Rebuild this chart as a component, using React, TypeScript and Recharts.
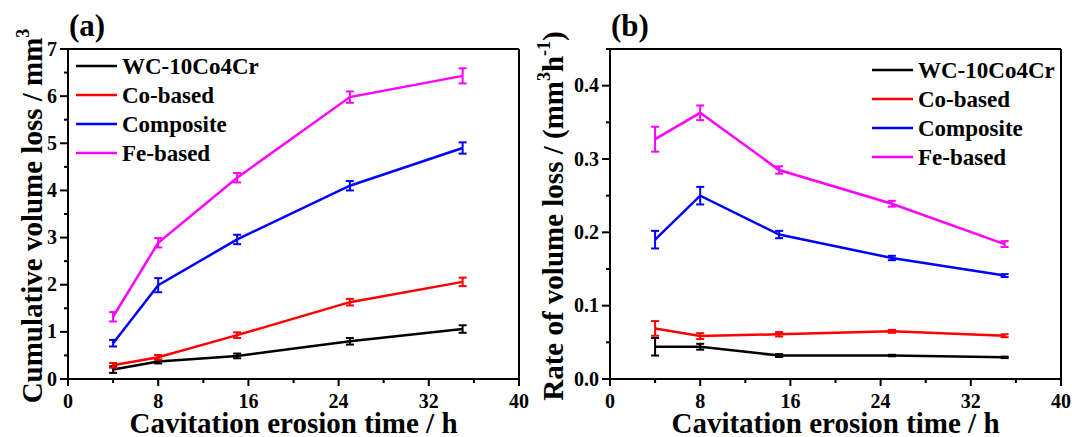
import React from 'react';
import { LineChart, Line, XAxis, YAxis, ErrorBar, ReferenceLine, Legend } from 'recharts';

const FONT = "'Liberation Serif', 'Times New Roman', Times, serif";

// ---------- data ----------
const times = [4, 8, 15, 25, 35];
const seriesNames = ['WC-10Co4Cr', 'Co-based', 'Composite', 'Fe-based'];
const seriesColors = ['#000000', '#ff0000', '#0000ff', '#ff00ff'];

// (a) cumulative volume loss, mm^3
const cumWC = [0.2, 0.37, 0.49, 0.8, 1.06];
const cumWCErr = [0.07, 0.04, 0.05, 0.07, 0.08];
const cumCo = [0.29, 0.46, 0.93, 1.63, 2.06];
const cumCoErr = [0.05, 0.05, 0.06, 0.07, 0.09];
const cumComp = [0.76, 1.99, 2.96, 4.1, 4.9];
const cumCompErr = [0.07, 0.15, 0.1, 0.1, 0.12];
const cumFe = [1.32, 2.89, 4.27, 5.98, 6.43];
const cumFeErr = [0.1, 0.1, 0.1, 0.12, 0.16];

// (b) rate of volume loss, mm^3 h^-1
const rateWC = [0.044, 0.044, 0.032, 0.032, 0.0295];
const rateWCErr = [0.012, 0.004, 0.002, 0.001, 0.001];
const rateCo = [0.069, 0.0585, 0.061, 0.065, 0.059];
const rateCoErr = [0.01, 0.004, 0.003, 0.002, 0.002];
const rateComp = [0.19, 0.25, 0.197, 0.165, 0.141];
const rateCompErr = [0.012, 0.012, 0.005, 0.003, 0.002];
const rateFe = [0.327, 0.363, 0.285, 0.239, 0.184];
const rateFeErr = [0.017, 0.01, 0.005, 0.004, 0.004];

// ticks
const xTicks = [0, 4, 8, 12, 16, 20, 24, 28, 32, 36, 40];
const yTicksA = [0, 0.5, 1, 1.5, 2, 2.5, 3, 3.5, 4, 4.5, 5, 5.5, 6, 6.5, 7];
const yTicksB = [0, 0.05, 0.1, 0.15, 0.2, 0.25, 0.3, 0.35, 0.4, 0.45];

const dataA = times.map((x, i) => ({
  x,
  s0: cumWC[i], e0: cumWCErr[i],
  s1: cumCo[i], e1: cumCoErr[i],
  s2: cumComp[i], e2: cumCompErr[i],
  s3: cumFe[i], e3: cumFeErr[i],
}));
const dataB = times.map((x, i) => ({
  x,
  s0: rateWC[i], e0: rateWCErr[i],
  s1: rateCo[i], e1: rateCoErr[i],
  s2: rateComp[i], e2: rateCompErr[i],
  s3: rateFe[i], e3: rateFeErr[i],
}));

// ---------- ticks ----------
const XTick = (props: any) => {
  const { x, y, payload, index } = props;
  const major = index % 2 === 0;
  return (
    <g>
      <line x1={x} x2={x} y1={y} y2={y + (major ? 7 : 4)} stroke="#000" strokeWidth={2} />
      {major && (
        <text x={x} y={y + 29} textAnchor="middle" fontSize={20} fontWeight="bold" fontFamily={FONT} fill="#000">
          {payload.value}
        </text>
      )}
    </g>
  );
};

const makeYTick = (fmt: (v: number) => string) => (props: any) => {
  const { x, y, payload, index } = props;
  const major = index % 2 === 0;
  return (
    <g>
      <line x1={x} x2={x - (major ? 8 : 4)} y1={y} y2={y} stroke="#000" strokeWidth={2} />
      {major && (
        <text x={x - 11} y={y + 6.5} textAnchor="end" fontSize={20} fontWeight="bold" fontFamily={FONT} fill="#000">
          {fmt(payload.value)}
        </text>
      )}
    </g>
  );
};
const YTickA = makeYTick((v) => String(v));
const YTickB = makeYTick((v) => v.toFixed(1));

// ---------- legend ----------
const makeLegend = () => () => (
  <svg width={200} height={120} style={{ display: 'block', overflow: 'visible' }}>
    {seriesNames.map((n, i) => (
      <g key={n}>
        <line x1={4} x2={45} y1={10 + i * 29} y2={10 + i * 29} stroke={seriesColors[i]} strokeWidth={2.5} />
        <text x={50} y={17.5 + i * 29} fontSize={23} fontWeight="bold" fontFamily={FONT} fill="#000">
          {n}
        </text>
      </g>
    ))}
  </svg>
);

const axisLabelStyle = { fontSize: 29, fontWeight: 'bold' as const, fontFamily: FONT, fill: '#000' };

const Panel = (p: {
  data: any[];
  yMax: number;
  yTicks: number[];
  YTick: any;
  marginRight: number;
  yAxisWidth: number;
  yLabel: React.ReactNode;
  yLabelX: number;
  panelLabel: string;
  legendLeft: number;
  legendTop: number;
}) => (
  <LineChart
    width={536}
    height={437}
    data={p.data}
    margin={{ top: 49, right: p.marginRight, bottom: 0, left: 0 }}
  >
    <XAxis
      type="number"
      dataKey="x"
      domain={[0, 40]}
      ticks={xTicks}
      interval={0}
      tickSize={0}
      tickMargin={0}
      tickLine={false}
      tick={<XTick />}
      axisLine={{ stroke: '#000', strokeWidth: 2 }}
      height={58}
      label={{
        content: (lp: any) => {
          const vb = lp.viewBox;
          return (
            <text x={vb.x + vb.width / 2} y={433} textAnchor="middle" {...axisLabelStyle}>
              Cavitation erosion time / h
            </text>
          );
        },
      }}
    />
    <YAxis
      type="number"
      domain={[0, p.yMax]}
      ticks={p.yTicks}
      interval={0}
      tickSize={0}
      tickMargin={0}
      tickLine={false}
      tick={<p.YTick />}
      axisLine={{ stroke: '#000', strokeWidth: 2 }}
      width={p.yAxisWidth}
      allowDecimals
      label={{
        content: () => (
          <text
            transform={`translate(${p.yLabelX}, 216) rotate(-90)`}
            textAnchor="middle"
            {...axisLabelStyle}
          >
            {p.yLabel}
          </text>
        ),
      }}
    />
    <ReferenceLine
      y={p.yMax}
      stroke="#000"
      strokeWidth={2}
      label={{
        content: (lp: any) => (
          <text x={lp.viewBox.x + 1} y={36} fontSize={31} fontWeight="bold" fontFamily={FONT} fill="#000">
            {p.panelLabel}
          </text>
        ),
      }}
    />
    <ReferenceLine x={40} stroke="#000" strokeWidth={2} />
    <Legend
      layout="vertical"
      align="center"
      verticalAlign="middle"
      content={makeLegend()}
      wrapperStyle={{ left: p.legendLeft, top: p.legendTop, width: 200, height: 120 }}
    />
    {[0, 1, 2, 3].map((i) => (
      <Line
        key={i}
        type="linear"
        dataKey={`s${i}`}
        stroke={seriesColors[i]}
        strokeWidth={2.5}
        dot={false}
        isAnimationActive={false}
      >
        <ErrorBar dataKey={`e${i}`} width={4} strokeWidth={2} stroke={seriesColors[i]} direction="y" />
      </Line>
    ))}
  </LineChart>
);

export default function App() {
  return (
    <div
      style={{
        position: 'absolute',
        left: 0,
        top: 0,
        width: 1072,
        height: 437,
        background: '#fff',
        display: 'flex',
        overflow: 'hidden',
      }}
    >
      <Panel
        data={dataA}
        yMax={7}
        yTicks={yTicksA}
        YTick={YTickA}
        marginRight={17}
        yAxisWidth={68}
        yLabel={
          <>
            Cumulative volume loss / mm
            <tspan dy={-13} fontSize={18}>3</tspan>
          </>
        }
        yLabelX={42}
        panelLabel="(a)"
        legendLeft={72}
        legendTop={56}
      />
      <Panel
        data={dataB}
        yMax={0.45}
        yTicks={yTicksB}
        YTick={YTickB}
        marginRight={11}
        yAxisWidth={74}
        yLabel={
          <>
            Rate of volume loss / (mm
            <tspan dy={-13} fontSize={18}>3</tspan>
            <tspan dy={13}>h</tspan>
            <tspan dy={-13} fontSize={18}>-1</tspan>
            <tspan dy={13}>)</tspan>
          </>
        }
        yLabelX={27}
        panelLabel="(b)"
        legendLeft={332}
        legendTop={60}
      />
    </div>
  );
}
